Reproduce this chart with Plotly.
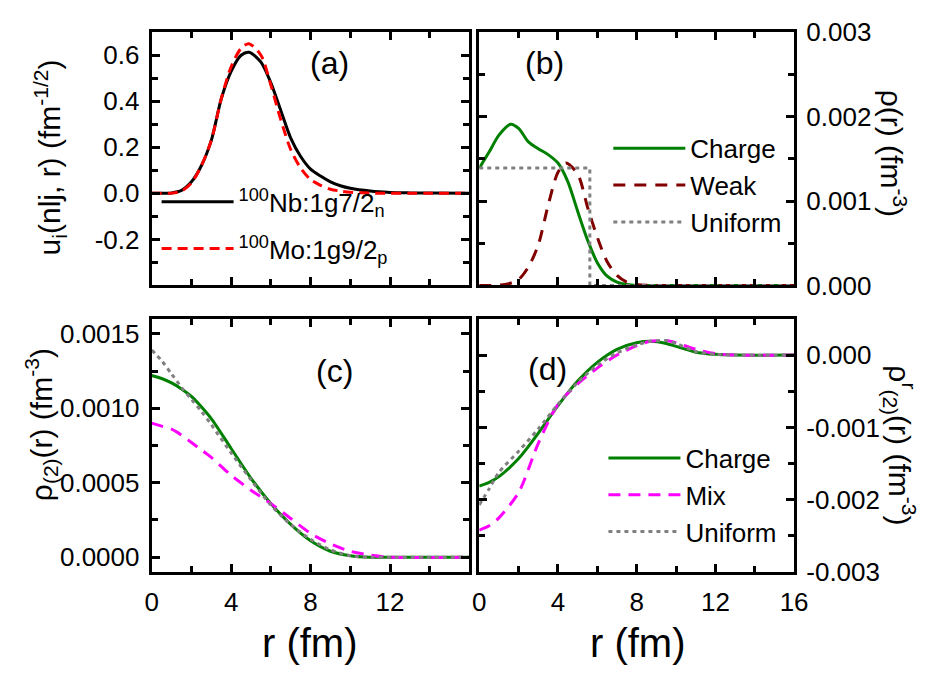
import plotly.graph_objects as go

# ---------------- data ----------------
# (a) single-particle wave functions
r_a = [0, 0.5, 1, 1.5, 2, 2.5, 3, 3.5, 4, 4.5, 4.9, 5.5, 6, 6.5, 7, 7.5, 8, 8.5, 9, 9.5, 10, 11, 12, 13, 14, 16]
u_nb = [0, 0.0003, 0.002, 0.013, 0.05, 0.12, 0.23, 0.41, 0.53, 0.60, 0.613, 0.57, 0.48, 0.36, 0.24, 0.16, 0.105, 0.075, 0.05, 0.033, 0.022, 0.01, 0.004, 0.002, 0.001, 0]
u_mo = [0, 0.0, 0.001, 0.01, 0.045, 0.12, 0.23, 0.41, 0.55, 0.63, 0.65, 0.60, 0.47, 0.32, 0.19, 0.11, 0.06, 0.035, 0.018, 0.01, 0.005, 0.001, 0, 0, 0, 0]

# (b) densities
r_b = [0, 0.5, 1, 1.6, 2, 2.5, 3, 3.5, 4, 4.5, 5, 5.5, 6, 6.5, 7, 7.5, 8, 9, 10, 12, 16]
rho_charge = [0.00139, 0.00158, 0.00178, 0.00191, 0.00186, 0.00170, 0.00162, 0.00155, 0.00145, 0.00123, 0.00088, 0.00054, 0.00027, 0.00011, 0.00004, 0.00001, 0, 0, 0, 0, 0]
r_bw = [0, 1, 1.5, 2, 2.5, 3, 3.5, 4, 4.4, 5, 5.5, 6, 6.5, 7, 7.5, 8, 9, 12, 16]
rho_weak = [0, 0.000003, 0.00002, 0.00007, 0.00022, 0.00048, 0.00095, 0.00134, 0.00145, 0.00132, 0.00093, 0.00057, 0.00028, 0.00012, 0.00004, 0.00001, 0, 0, 0]
r_bu = [0, 5.62, 5.62, 16]
rho_uniform = [0.00139, 0.00139, 0, 0]

# (c) rho_(2)
r_c = [0, 0.5, 1, 1.5, 2, 2.5, 3, 4, 5, 6, 7, 8, 9, 10, 11, 12, 16]
c_charge = [0.00122, 0.00120, 0.00117, 0.00113, 0.00108, 0.00101, 0.00093, 0.00073, 0.00053, 0.00036, 0.00022, 0.00011, 0.00004, 0.00001, 0, 0, 0]
c_mix = [0.00090, 0.00088, 0.00086, 0.00082, 0.00077, 0.00072, 0.00067, 0.00055, 0.00045, 0.00036, 0.00026, 0.00016, 0.00009, 0.00004, 0.000015, 0, 0]
c_uniform = [0.00139, 0.00132, 0.00123, 0.00114, 0.00106, 0.00098, 0.00089, 0.00070, 0.00052, 0.00035, 0.00022, 0.00012, 0.00005, 0.00001, 0, 0, 0]

# (d) rho^r_(2)
r_d = [0, 0.5, 1, 2, 3, 4, 5, 6, 7, 8, 8.7, 9.5, 10, 11, 12, 13, 16]
d_charge = [-0.00181, -0.00176, -0.00168, -0.00143, -0.00108, -0.00070, -0.00036, -0.00010, 0.00008, 0.00017, 0.00019, 0.00016, 0.00012, 0.00004, 0.00001, 0, 0]
d_mix = [-0.00242, -0.00236, -0.00225, -0.00190, -0.00122, -0.00068, -0.00040, -0.00018, 0.0, 0.00013, 0.00019, 0.00020, 0.00017, 0.00008, 0.00002, 0, 0]
d_uniform = [-0.00207, -0.00185, -0.00162, -0.00133, -0.00102, -0.00068, -0.00038, -0.00014, 0.00003, 0.00014, 0.00019, 0.00020, 0.00016, 0.00005, 0.00001, 0, 0]

x_ticks = [0, 4, 8, 12, 16]
ya_ticks = [-0.2, 0.0, 0.2, 0.4, 0.6]
ya_text = ["-0.2", "0.0", "0.2", "0.4", "0.6"]
yb_ticks = [0, 0.001, 0.002, 0.003]
yb_text = ["0.000", "0.001", "0.002", "0.003"]
yc_ticks = [0, 0.0005, 0.001, 0.0015]
yc_text = ["0.0000", "0.0005", "0.0010", "0.0015"]
yd_ticks = [-0.003, -0.002, -0.001, 0]
yd_text = ["-0.003", "-0.002", "-0.001", "0.000"]

# ---------------- figure ----------------
FONT = "Liberation Sans, Arial, sans-serif"
GREEN = "#008000"
MAROON = "#800000"
GRAY = "#808080"
MAGENTA = "#FF00FF"
RED = "#FF0000"
LW = 3

fig = go.Figure()

def add(x, y, xa, ya, name, color, dash, legend, spline=True, group=None):
    fig.add_trace(go.Scatter(
        x=x, y=y, xaxis=xa, yaxis=ya, mode="lines", name=name,
        line=dict(color=color, width=LW, dash=dash, shape="spline" if spline else "linear", smoothing=0.8),
        legend=legend, showlegend=legend is not None, legendgroup=group))

add(r_a, u_nb, "x", "y", "<sup>100</sup>Nb:1g7/2<sub>n</sub>", "black", "solid", "legend", group="a1")
add(r_a, u_mo, "x", "y", "<sup>100</sup>Mo:1g9/2<sub>p</sub>", RED, "10px,6px", "legend", group="a2")

add(r_b, rho_charge, "x2", "y2", "Charge", GREEN, "solid", "legend2")
add(r_bw, rho_weak, "x2", "y2", "Weak", MAROON, "12px,9px", "legend2")
add(r_bu, rho_uniform, "x2", "y2", "Uniform", GRAY, "4px,4px", "legend2", spline=False)

add(r_c, c_charge, "x3", "y3", "Charge", GREEN, "solid", None)
add(r_c, c_mix, "x3", "y3", "Mix", MAGENTA, "12px,8px", None)
add(r_c, c_uniform, "x3", "y3", "Uniform", GRAY, "4px,4px", None)

add(r_d, d_charge, "x4", "y4", "Charge", GREEN, "solid", "legend3")
add(r_d, d_mix, "x4", "y4", "Mix", MAGENTA, "12px,8px", "legend3")
add(r_d, d_uniform, "x4", "y4", "Uniform", GRAY, "4px,4px", "legend3")

W, H = 944, 676
def px(v):
    return v / W
def py(v):
    return 1 - v / H

xl, xr = px(148), px(473)
xl2, xr2 = px(483), px(805)
yt1, yb1 = py(18), py(283)
yt2, yb2 = py(318), py(583)

tickfont = dict(family=FONT, size=26, color="black")

def xaxis(domain, anchor, labels, tickvals):
    return dict(domain=domain, anchor=anchor, range=[0, 16], showline=True, linewidth=3, linecolor="black",
                mirror="allticks", ticks="inside", ticklen=8, tickwidth=3, tickcolor="black",
                tickvals=tickvals, ticktext=[str(v) for v in tickvals], showticklabels=labels,
                minor=dict(ticks="inside", ticklen=6, tickwidth=3, tickcolor="black", dtick=2, tick0=0),
                showgrid=False, zeroline=False, tickfont=tickfont, ticklabelstandoff=5)

def yaxis(domain, anchor, rng, tickvals, ticktext, side, minor_dtick):
    return dict(domain=domain, anchor=anchor, range=rng, side=side, showline=True, linewidth=3, linecolor="black",
                mirror="allticks", ticks="inside", ticklen=8, tickwidth=3, tickcolor="black",
                tickvals=tickvals, ticktext=ticktext,
                minor=dict(ticks="inside", ticklen=6, tickwidth=3, tickcolor="black", dtick=minor_dtick, tick0=0),
                showgrid=False, zeroline=False, tickfont=tickfont, ticklabelstandoff=4)

legfont = dict(family=FONT, size=26, color="black")

fig.update_layout(
    width=W, height=H, margin=dict(l=0, r=0, t=0, b=0),
    paper_bgcolor="white", plot_bgcolor="white",
    font=dict(family=FONT, color="black"),
    xaxis=xaxis([xl, xr], "y", False, x_ticks),
    xaxis2=xaxis([xl2, xr2], "y2", False, x_ticks),
    xaxis3=xaxis([xl, xr], "y3", True, [0, 4, 8, 12]),
    xaxis4=xaxis([xl2, xr2], "y4", True, x_ticks),
    yaxis=yaxis([yb1, yt1], "x", [-0.4, 0.7], ya_ticks, ya_text, "left", 0.1),
    yaxis2=yaxis([yb1, yt1], "x2", [0, 0.003], yb_ticks, yb_text, "right", 0.0005),
    yaxis3=yaxis([yb2, yt2], "x3", [-0.0001, 0.0016], yc_ticks, yc_text, "left", 0.00025),
    yaxis4=yaxis([yb2, yt2], "x4", [-0.003, 0.0005], yd_ticks, yd_text, "right", 0.0005),
    legend=dict(x=px(153), y=py(171), xanchor="left", yanchor="top", bgcolor="rgba(0,0,0,0)",
                font=legfont, itemwidth=72, tracegroupgap=10),
    legend2=dict(x=px(615), y=py(115), xanchor="left", yanchor="top", bgcolor="rgba(0,0,0,0)",
                 font=legfont, itemwidth=72, tracegroupgap=0),
    legend3=dict(x=px(610), y=py(439), xanchor="left", yanchor="top", bgcolor="rgba(0,0,0,0)",
                 font=legfont, itemwidth=72, tracegroupgap=0),
)

def ann(text, x, y, size, angle=0):
    fig.add_annotation(text=text, x=px(x), y=py(y), xref="paper", yref="paper", showarrow=False,
                       textangle=angle, font=dict(family=FONT, size=size, color="black"),
                       xanchor="center", yanchor="middle")

# panel labels
ann("(a)", 330, 50, 32)
ann("(b)", 550, 50, 32)
ann("(c)", 335, 373, 32)
ann("(d)", 553, 370, 32)

# axis titles
ann("u<sub>i</sub>(nlj, r) (fm<sup>-1/2</sup>)", 44, 149, 30, -90)
ann("ρ(r) (fm<sup>-3</sup>)", 907, 145, 30, 90)
ann("ρ<sub>(2)</sub>(r) (fm<sup>-3</sup>)", 35, 429, 30, -90)
ann("ρ<sup>r</sup><sub>(2)</sub>(r) (fm<sup>-3</sup>)", 913, 450, 30, 90)
ann("r (fm)", 310, 657, 40)
ann("r (fm)", 645, 657, 40)

fig.write_html("out.html")
